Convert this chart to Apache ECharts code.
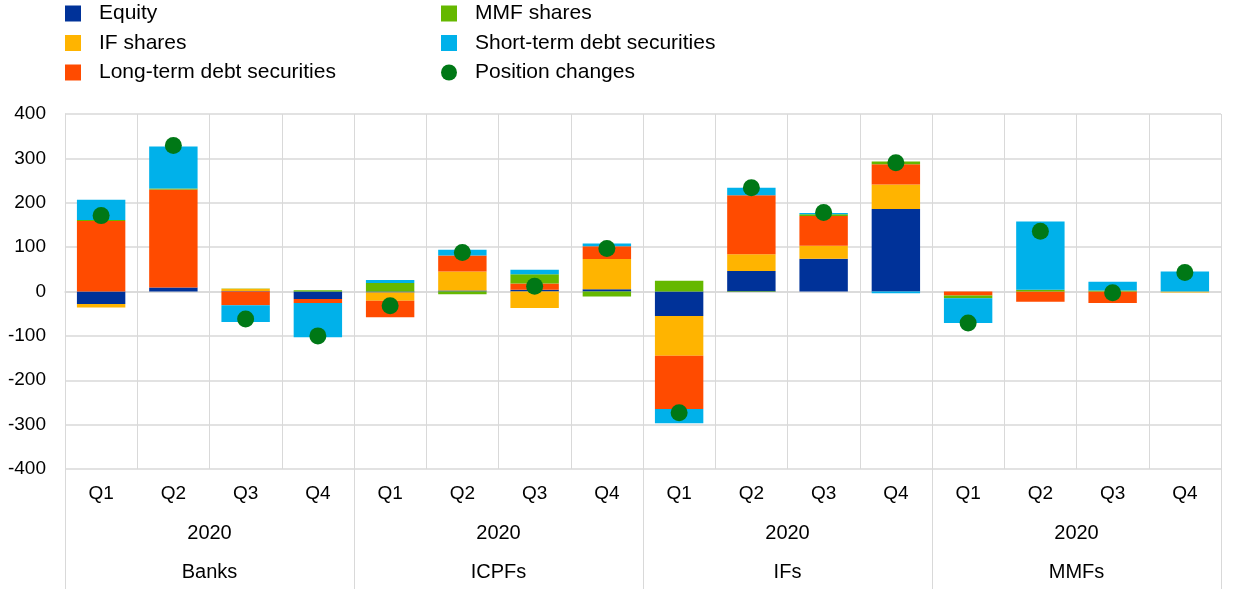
<!DOCTYPE html>
<html>
<head>
<meta charset="utf-8">
<script src="https://cdn.jsdelivr.net/npm/echarts@6/dist/echarts.min.js"></script>
<style>html,body{margin:0;padding:0;background:#fff;}#c{width:1240px;height:589px;}</style>
</head>
<body>
<div id="c"></div>
<script>
const quarters = ['Q1','Q2','Q3','Q4','Q1','Q2','Q3','Q4','Q1','Q2','Q3','Q4','Q1','Q2','Q3','Q4'];
const years = ['2020','2020','2020','2020'];
const sectors = ['Banks','ICPFs','IFs','MMFs'];
const yTicks = [-400,-300,-200,-100,0,100,200,300,400];

const equity   = [-28, 9, 1, -17, -2, 2, 4, 5, -55, 46, 74, 186, 0, 0, 0, 0];
const ifShares = [-8, 0, 5, 0, -19, 43, -37, 68, -90, 38, 29, 55, 0, 0, 0, -2];
const ltDebt   = [159, 221, -31, -9, -37, 36, 14, 29, -120, 133, 67, 46, -9, -23, -26, 0];
const mmfShares= [2, 2, 1, 3, 19, -6, 21, -11, 24, -1, 4, 6, -6, 4, 2, 0];
const stDebt   = [46, 95, -38, -77, 7, 13, 10, 6, -32, 17, 3, -4, -56, 154, 20, 45];
const posChg   = [171, 329, -62, -100, -32, 88, 12, 97, -273, 234, 178, 290, -71, 136, -3, 43];

const FONT = 'Liberation Sans';
const GRID = '#d9d9d9';
const chart = echarts.init(document.getElementById('c'), null, {renderer:'canvas'});

function bar(name, data, color) {
  return {name, type:'bar', stack:'s', data, barWidth:'67%', xAxisIndex:0,
    itemStyle:{color}, emphasis:{disabled:true}};
}

const legendBase = {
  orient:'vertical', top:3, padding:0, itemWidth:16, itemHeight:16, itemGap:8.5,
  textStyle:{fontFamily:FONT, fontSize:21, color:'#000', padding:[0,0,0,13]},
  selectedMode:false
};

chart.setOption({
  animation:false,
  textStyle:{fontFamily:FONT},
  legend:[
    Object.assign({}, legendBase, {left:65, data:[
      {name:'Equity', icon:'rect'},
      {name:'IF shares', icon:'rect'},
      {name:'Long-term debt securities', icon:'rect'}]}),
    Object.assign({}, legendBase, {left:441, data:[
      {name:'MMF shares', icon:'rect'},
      {name:'Short-term debt securities', icon:'rect'},
      {name:'Position changes', icon:'circle'}]})
  ],
  grid:{left:65, right:19, top:114, bottom:120},
  xAxis:[
    {type:'category', data:quarters, position:'bottom',
      axisLine:{show:true, lineStyle:{color:GRID, width:1.5}},
      axisTick:{show:false},
      axisLabel:{margin:15, fontSize:19, color:'#000', fontFamily:FONT},
      splitLine:{show:true, lineStyle:{color:GRID, width:1}}},
    {type:'category', data:years, position:'bottom',
      axisLine:{show:false}, axisTick:{show:false},
      axisLabel:{margin:54, fontSize:20, color:'#000', fontFamily:FONT}},
    {type:'category', data:sectors, position:'bottom',
      axisLine:{show:false},
      axisTick:{show:true, length:120, lineStyle:{color:GRID, width:1}},
      axisLabel:{margin:93, fontSize:20, color:'#000', fontFamily:FONT}}
  ],
  yAxis:{type:'value', min:yTicks[0], max:yTicks[yTicks.length-1], interval:100,
    axisLine:{show:true, lineStyle:{color:GRID}}, axisTick:{show:false},
    axisLabel:{fontSize:19, color:'#000', margin:19, fontFamily:FONT},
    splitLine:{lineStyle:{color:GRID, width:1.5}}},
  series:[
    bar('Equity', equity, '#003299'),
    bar('IF shares', ifShares, '#ffb400'),
    bar('Long-term debt securities', ltDebt, '#ff4b00'),
    bar('MMF shares', mmfShares, '#65b800'),
    bar('Short-term debt securities', stDebt, '#00b1ea'),
    {name:'Position changes', type:'scatter', data:posChg, xAxisIndex:0,
      symbolSize:17, itemStyle:{color:'#007816', opacity:1}, z:5, emphasis:{disabled:true}}
  ]
});
</script>
</body>
</html>
